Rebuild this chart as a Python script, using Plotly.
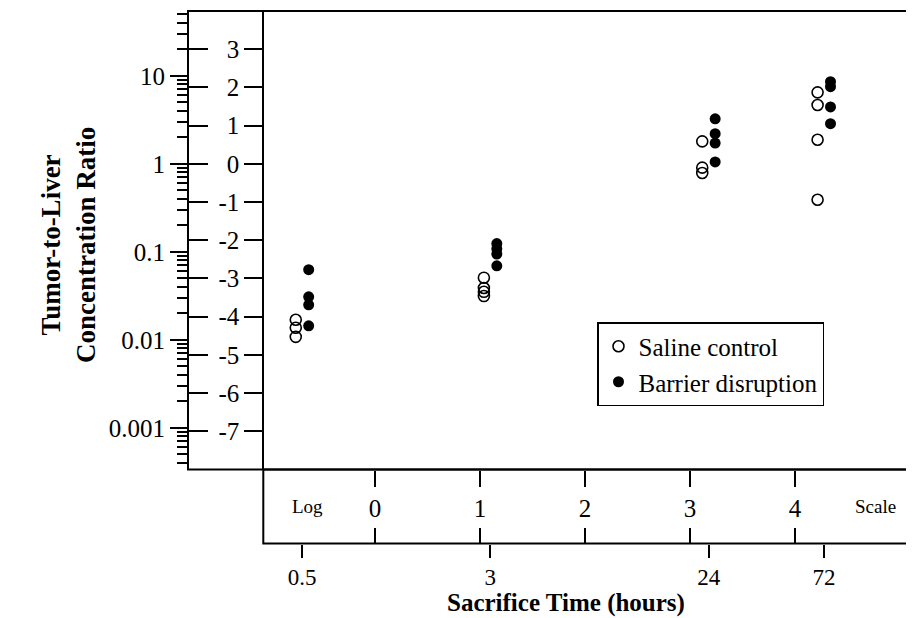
import math
import plotly.graph_objects as go

# ---------------- data ----------------
hours = [0.5, 3, 24, 72]
hour_labels = ["0.5", "3", "24", "72"]

saline_05 = [0.0169, 0.0137, 0.0108]
saline_3 = [0.0508, 0.0388, 0.0351, 0.0314]
saline_24 = [1.80, 0.905, 0.787]
saline_72 = [6.49, 4.66, 1.88, 0.391]

barrier_05 = [0.0627, 0.0308, 0.0250, 0.0144]
barrier_3 = [0.124, 0.108, 0.0944, 0.0693]
barrier_24 = [3.25, 2.20, 1.72, 1.05]
barrier_72 = [8.58, 7.54, 4.44, 2.86]

log_ticks = [0.001, 0.01, 0.1, 1, 10]
log_tick_text = ["0.001", "0.01", "0.1", "1", "10"]
ln_y_ticks = [-7, -6, -5, -4, -3, -2, -1, 0, 1, 2, 3]
ln_y_text = ["-7", "-6", "-5", "-4", "-3", "-2", "-1", "0", "1", "2", "3"]
ln_x_ticks = [0, 1, 2, 3, 4]

saline = [saline_05, saline_3, saline_24, saline_72]
barrier = [barrier_05, barrier_3, barrier_24, barrier_72]

def flatten(groups):
    xs, ys = [], []
    for h, vals in zip(hours, groups):
        for v in vals:
            xs.append(math.log(h))
            ys.append(v)
    return xs, ys

sx, sy = flatten(saline)
bx, by = flatten(barrier)

# ---------------- layout constants (screen px -> paper) ----------------
FONT = "Liberation Serif"
PAGE = 8                      # default body margin of the html page
W, H = 914 - PAGE, 618 - PAGE
ML, MR, MT, MB = 188 - PAGE, 4, 11 - PAGE, 0
pw, ph = W - ML - MR, H - MT - MB

def px(sx_):
    return (sx_ - PAGE - ML) / pw

def py(sy_):
    return (H - (sy_ - PAGE)) / ph

y_dom0 = py(469.5)
y_box0 = py(543.5)
inner_pos = px(263.3)

# x range: ln(hours) scale (screen px 188..910)
slope, icpt = 105.0, 375.0
x_range = [(188 - icpt) / slope, (910 - icpt) / slope]
ln_lo, ln_hi = -8, 4
y_range_log = [ln_lo / math.log(10), ln_hi / math.log(10)]

minor_vals = []
for k in range(-4, 2):
    for m in range(2, 10):
        v = m * 10 ** k
        if math.exp(ln_lo) < v < math.exp(ln_hi):
            minor_vals.append(v)

fig = go.Figure()
fig.add_trace(go.Scatter(
    x=sx, y=sy, mode="markers", name="Saline control",
    marker=dict(symbol="circle-open", size=11, color="black", line=dict(width=1.6)),
))
fig.add_trace(go.Scatter(
    x=bx, y=by, mode="markers", name="Barrier disruption",
    marker=dict(symbol="circle", size=11, color="black"),
))
# empty traces so that the extra scale axes are drawn
for xa, ya in [("x2", "y2"), ("x3", "y3"), ("x4", "y3")]:
    fig.add_trace(go.Scatter(x=[], y=[], xaxis=xa, yaxis=ya, showlegend=False,
                             hoverinfo="skip"))

axis_font = dict(family=FONT, size=25, color="black")
common_x = dict(range=x_range, showgrid=False, zeroline=False, fixedrange=True)

fig.update_layout(
    width=W, height=H,
    margin=dict(l=ML, r=MR, t=MT, b=MB, autoexpand=False),
    paper_bgcolor="white", plot_bgcolor="white",
    font=dict(family=FONT, color="black"),
    scattermode="group", scattergap=0.776,
    showlegend=True,
    legend=dict(
        x=px(597), y=py(322), xanchor="left", yanchor="top",
        bordercolor="black", borderwidth=1.5, bgcolor="white",
        font=dict(family=FONT, size=25, color="black"),
        tracegroupgap=0, itemwidth=30,
    ),
    xaxis=dict(domain=[0, 1], showticklabels=False, ticks="", showline=False,
               anchor="y", **common_x),
    xaxis2=dict(overlaying="x", anchor="free", position=y_box0, side="bottom",
                tickmode="array", tickvals=[math.log(h) for h in hours],
                ticktext=hour_labels, ticks="outside", ticklen=13, tickwidth=2,
                tickcolor="black", showline=False,
                tickfont=dict(family=FONT, size=23, color="black"),
                automargin=False, **common_x),
    xaxis3=dict(overlaying="x", anchor="free", position=y_dom0, side="bottom",
                tickmode="array", tickvals=ln_x_ticks, ticks="outside", ticklen=16,
                tickwidth=2, tickcolor="black", showline=False, tickfont=axis_font,
                automargin=False, **common_x),
    xaxis4=dict(overlaying="x", anchor="free", position=y_box0, side="bottom",
                tickmode="array", tickvals=ln_x_ticks, ticks="inside", ticklen=16,
                tickwidth=2, tickcolor="black", showline=False, showticklabels=False,
                automargin=False, **common_x),
    yaxis=dict(domain=[y_dom0, 1], type="log", range=y_range_log, anchor="x",
               tickmode="array", tickvals=log_ticks, ticktext=log_tick_text,
               ticks="outside", ticklen=17, tickwidth=2, tickcolor="black",
               minor=dict(tickmode="array", tickvals=minor_vals, ticks="outside",
                          ticklen=10, tickwidth=1.6, tickcolor="black", showgrid=False),
               showgrid=False, zeroline=False, showline=False, tickfont=axis_font,
               automargin=False, fixedrange=True),
    yaxis2=dict(domain=[y_dom0, 1], overlaying="y", anchor="free", position=inner_pos,
                side="left", range=[ln_lo, ln_hi], tickmode="array", tickvals=ln_y_ticks,
                ticktext=ln_y_text,
                ticks="outside", ticklen=18, tickwidth=2, tickcolor="black",
                showline=True, linewidth=2, linecolor="black", showgrid=False,
                zeroline=False, tickfont=dict(family=FONT, size=25, color="black"),
                automargin=False, fixedrange=True),
    yaxis3=dict(domain=[y_dom0, 1], overlaying="y", anchor="free", position=0,
                side="left", range=[ln_lo, ln_hi], tickmode="array", tickvals=ln_y_ticks,
                ticks="inside", ticklen=19, tickwidth=2, tickcolor="black",
                showline=False, showgrid=False, zeroline=False, showticklabels=False,
                automargin=False, fixedrange=True),
)

# frames
fig.add_shape(type="rect", xref="paper", yref="paper", x0=0, x1=1, y0=y_dom0, y1=1,
              line=dict(color="black", width=2), layer="above")
fig.add_shape(type="rect", xref="paper", yref="paper", x0=inner_pos, x1=1,
              y0=y_box0, y1=y_dom0, line=dict(color="black", width=2), layer="above")

# labels
lab_y = py(506)
fig.add_annotation(text="Log", xref="paper", yref="paper", x=px(307), y=lab_y,
                   xanchor="center", yanchor="middle",
                   showarrow=False, font=dict(family=FONT, size=19, color="black"))
fig.add_annotation(text="Scale", xref="paper", yref="paper", x=px(875), y=lab_y,
                   xanchor="center", yanchor="middle",
                   showarrow=False, font=dict(family=FONT, size=19, color="black"))
fig.add_annotation(text="<b>Sacrifice Time (hours)</b>", xref="paper", yref="paper",
                   x=px(566), y=py(603), xanchor="center", yanchor="middle",
                   showarrow=False, font=dict(family=FONT, size=25, color="black"))
fig.add_annotation(text="<b>Tumor-to-Liver<br>Concentration Ratio</b>", xref="paper",
                   yref="paper", x=px(69), y=py(245), textangle=-90,
                   xanchor="center", yanchor="middle",
                   showarrow=False, font=dict(family=FONT, size=27, color="black"))

fig.write_html("out.html")
